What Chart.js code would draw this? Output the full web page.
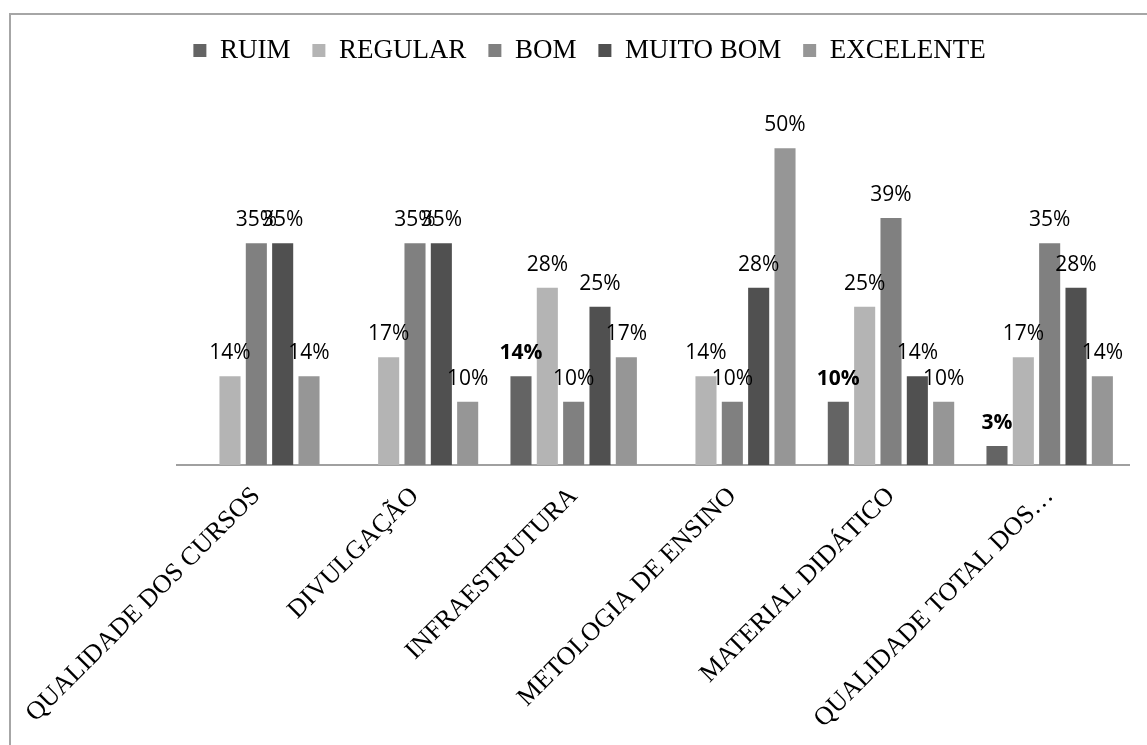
<!DOCTYPE html>
<html>
<head>
<meta charset="utf-8">
<script src="https://cdn.jsdelivr.net/npm/chart.js@4.4.1/dist/chart.umd.min.js"></script>
<style>
    html, body { margin: 0; padding: 0; background: #fff; overflow: hidden; }
    #area { position: relative; width: 1147px; height: 745px; }
    #moldura { position: absolute; left: 9px; top: 13px; width: 1300px; height: 900px;
               border-top: 2px solid #a6a6a6; border-left: 2px solid #a6a6a6; }
    #grafico { position: absolute; left: 0; top: 0; }
</style>
</head>
<body>
<div id="area">
    <div id="moldura"></div>
    <canvas id="grafico" width="1147" height="745"></canvas>
</div>
<script>
// dados (%)
const categorias = ['QUALIDADE DOS CURSOS', 'DIVULGAÇÃO', 'INFRAESTRUTURA', 'METOLOGIA DE ENSINO', 'MATERIAL DIDÁTICO', 'QUALIDADE TOTAL DOS…'];
const nomesSeries = ['RUIM', 'REGULAR', 'BOM', 'MUITO BOM', 'EXCELENTE'];
const ruim = [null, null, 14, null, 10, 3];
const regular = [14, 17, 28, 14, 25, 17];
const bom = [35, 35, 10, 10, 39, 35];
const muitoBom = [35, 35, 25, 28, 14, 28];
const excelente = [14, 10, 17, 50, 10, 14];

const cores = ['#646464', '#b4b4b4', '#808080', '#505050', '#969696'];
const fonteSerif = '"Liberation Serif", "Times New Roman", serif';
const fonteRotulo = '"Open Sans", "Liberation Sans", sans-serif';

// rótulos de porcentagem acima das barras
const rotulosBarras = {
    id: 'rotulosBarras',
    afterDatasetsDraw(chart) {
        const ctx = chart.ctx;
        ctx.save();
        ctx.textAlign = 'center';
        ctx.textBaseline = 'alphabetic';
        ctx.fillStyle = '#000';
        chart.data.datasets.forEach((ds, i) => {
            const meta = chart.getDatasetMeta(i);
            ctx.font = (i === 0 ? 'bold ' : '') + '21px ' + fonteRotulo;
            meta.data.forEach((barra, j) => {
                const v = ds.data[j];
                if (v === null) return;
                ctx.fillText(v + '%', barra.x, barra.y - 17);
            });
        });
        ctx.restore();
    }
};

// espaço extra entre legenda e área do gráfico
const ajusteLegenda = {
    id: 'ajusteLegenda',
    beforeInit(chart) {
        const legenda = chart.legend;
        if (!legenda) return;
        const fitOriginal = legenda.fit;
        legenda.fit = function () {
            fitOriginal.call(this);
            this.height += 11;
        };
    }
};

const valores = [ruim, regular, bom, muitoBom, excelente];

new Chart(document.getElementById('grafico').getContext('2d'), {
    type: 'bar',
    data: {
        labels: categorias,
        datasets: nomesSeries.map((nome, i) => ({
            label: nome,
            data: valores[i],
            backgroundColor: cores[i],
            borderWidth: 0,
            categoryPercentage: 0.83,
            barPercentage: 0.8
        }))
    },
    options: {
        responsive: false,
        animation: false,
        layout: { padding: { top: 15, left: 32, right: 0, bottom: 0 } },
        plugins: {
            legend: {
                position: 'top',
                labels: {
                    boxWidth: 13,
                    boxHeight: 13,
                    padding: 22,
                    color: '#000',
                    font: { family: fonteSerif, size: 27 }
                }
            },
            tooltip: { enabled: false }
        },
        scales: {
            x: {
                grid: { display: false },
                border: { display: true, color: '#a0a0a0', width: 2 },
                ticks: {
                    color: '#000',
                    autoSkip: false,
                    minRotation: 45,
                    maxRotation: 45,
                    padding: 8,
                    font: { family: fonteSerif, size: 26 }
                },
                afterFit(escala) {
                    escala.height = 280;
                    escala.paddingLeft = 177;
                    escala.paddingRight = 18;
                }
            },
            y: {
                display: false,
                min: 0,
                max: 60
            }
        }
    },
    plugins: [rotulosBarras, ajusteLegenda]
});
</script>
</body>
</html>
